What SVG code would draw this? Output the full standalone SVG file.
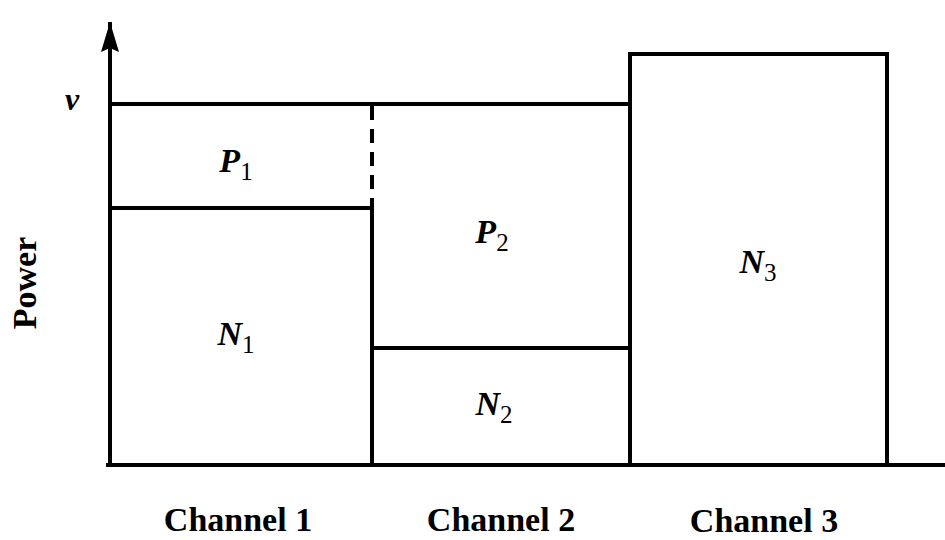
<svg xmlns="http://www.w3.org/2000/svg" width="945" height="540" viewBox="0 0 945 540">
<defs>
<style>
.ln{stroke:#000;stroke-width:4;fill:none;stroke-linecap:square}
.t{font-family:"Liberation Serif","Times New Roman",serif;font-weight:bold;fill:#000}
.v{font-style:italic}
.s{font-style:normal;font-weight:normal}
</style>
<marker id="ah" markerWidth="30" markerHeight="22" refX="28" refY="11" orient="auto" markerUnits="userSpaceOnUse" viewBox="0 0 30 22">
<path d="M0,2 L30,11 L0,20 L4,11 Z" fill="#000"/>
</marker>
</defs>
<rect width="945" height="540" fill="#fff"/>
<g id="axes">
<line class="ln" x1="110" y1="465" x2="110" y2="24" marker-end="url(#ah)"/>
<line class="ln" x1="108" y1="465" x2="945" y2="465"/>
<text class="t v" x="72" y="110" font-size="32" text-anchor="middle">ν</text>
<text class="t" x="0" y="0" font-size="34" text-anchor="middle" transform="translate(36,283) rotate(-90)">Power</text>
</g>
<g id="connectors">
<line class="ln" x1="110" y1="104" x2="630" y2="104"/>
<line x1="372" y1="106" x2="372" y2="208" stroke="#000" stroke-width="4" stroke-dasharray="14,9"/>
</g>
<g id="channel1">
<line class="ln" x1="110" y1="208" x2="372" y2="208"/>
<line class="ln" x1="372" y1="208" x2="372" y2="465"/>
<text class="t" x="236" y="172" font-size="34" text-anchor="middle"><tspan class="v">P</tspan><tspan class="s" font-size="25" dy="8">1</tspan></text>
<text class="t" x="236" y="345" font-size="34" text-anchor="middle"><tspan class="v">N</tspan><tspan class="s" font-size="25" dy="8">1</tspan></text>
<text class="t" x="238" y="531" font-size="34" text-anchor="middle">Channel 1</text>
</g>
<g id="channel2">
<line class="ln" x1="372" y1="348" x2="630" y2="348"/>
<text class="t" x="492" y="243" font-size="34" text-anchor="middle"><tspan class="v">P</tspan><tspan class="s" font-size="25" dy="8">2</tspan></text>
<text class="t" x="494" y="415" font-size="34" text-anchor="middle"><tspan class="v">N</tspan><tspan class="s" font-size="25" dy="8">2</tspan></text>
<text class="t" x="501" y="531" font-size="34" text-anchor="middle">Channel 2</text>
</g>
<g id="channel3">
<path class="ln" d="M630,465 L630,54 L887,54 L887,465"/>
<text class="t" x="758" y="273" font-size="34" text-anchor="middle"><tspan class="v">N</tspan><tspan class="s" font-size="25" dy="8">3</tspan></text>
<text class="t" x="764" y="532" font-size="34" text-anchor="middle">Channel 3</text>
</g>
</svg>
